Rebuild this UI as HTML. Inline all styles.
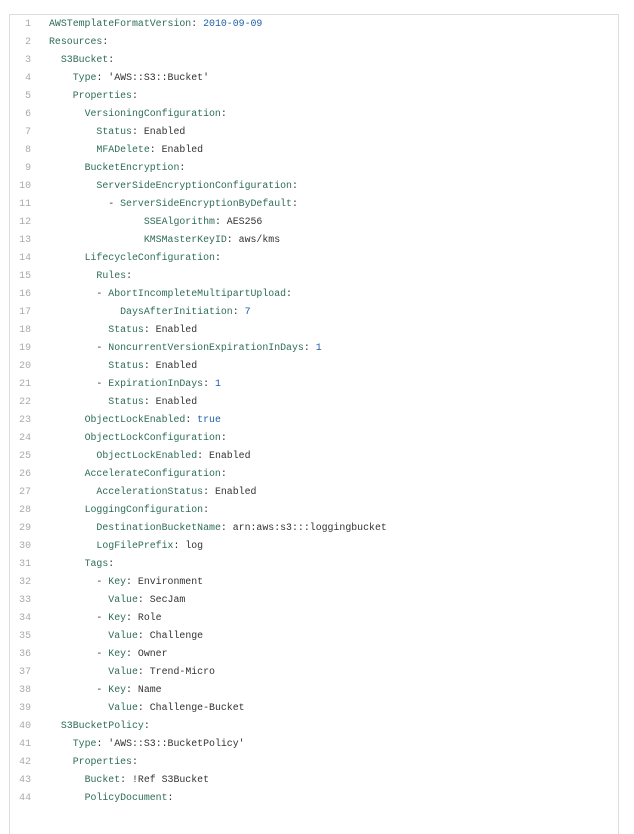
<!DOCTYPE html>
<html><head><meta charset="utf-8"><style>
html,body{margin:0;padding:0;background:#fff;width:634px;height:810px;overflow:hidden}
.box{position:absolute;left:9px;top:14px;width:610px;height:820px;border:1px solid #ddd;border-bottom:none;box-sizing:border-box}
.ln{position:absolute;left:0;top:15px;width:31px;text-align:right;font:9.9px/18px "Liberation Mono",monospace;color:#aaa;white-space:pre}
.code{position:absolute;left:49px;top:15px;font:9.9px/18px "Liberation Mono",monospace;color:#333;white-space:pre;margin:0}
.k{color:#2e6d57}.n{color:#1e5ea6}
</style></head><body>
<div class="box"></div>
<div class="ln">1
2
3
4
5
6
7
8
9
10
11
12
13
14
15
16
17
18
19
20
21
22
23
24
25
26
27
28
29
30
31
32
33
34
35
36
37
38
39
40
41
42
43
44</div>
<pre class="code"><span class="k">AWSTemplateFormatVersion</span>: <span class="n">2010-09-09</span>
<span class="k">Resources</span>:
  <span class="k">S3Bucket</span>:
    <span class="k">Type</span>: 'AWS::S3::Bucket'
    <span class="k">Properties</span>:
      <span class="k">VersioningConfiguration</span>:
        <span class="k">Status</span>: Enabled
        <span class="k">MFADelete</span>: Enabled
      <span class="k">BucketEncryption</span>:
        <span class="k">ServerSideEncryptionConfiguration</span>:
          - <span class="k">ServerSideEncryptionByDefault</span>:
                <span class="k">SSEAlgorithm</span>: AES256
                <span class="k">KMSMasterKeyID</span>: aws/kms
      <span class="k">LifecycleConfiguration</span>:
        <span class="k">Rules</span>:
        - <span class="k">AbortIncompleteMultipartUpload</span>:
            <span class="k">DaysAfterInitiation</span>: <span class="n">7</span>
          <span class="k">Status</span>: Enabled
        - <span class="k">NoncurrentVersionExpirationInDays</span>: <span class="n">1</span>
          <span class="k">Status</span>: Enabled
        - <span class="k">ExpirationInDays</span>: <span class="n">1</span>
          <span class="k">Status</span>: Enabled
      <span class="k">ObjectLockEnabled</span>: <span class="n">true</span>
      <span class="k">ObjectLockConfiguration</span>:
        <span class="k">ObjectLockEnabled</span>: Enabled
      <span class="k">AccelerateConfiguration</span>:
        <span class="k">AccelerationStatus</span>: Enabled
      <span class="k">LoggingConfiguration</span>:
        <span class="k">DestinationBucketName</span>: arn:aws:s3:::loggingbucket
        <span class="k">LogFilePrefix</span>: log
      <span class="k">Tags</span>:
        - <span class="k">Key</span>: Environment
          <span class="k">Value</span>: SecJam
        - <span class="k">Key</span>: Role
          <span class="k">Value</span>: Challenge
        - <span class="k">Key</span>: Owner
          <span class="k">Value</span>: Trend-Micro
        - <span class="k">Key</span>: Name
          <span class="k">Value</span>: Challenge-Bucket
  <span class="k">S3BucketPolicy</span>:
    <span class="k">Type</span>: 'AWS::S3::BucketPolicy'
    <span class="k">Properties</span>:
      <span class="k">Bucket</span>: !Ref S3Bucket
      <span class="k">PolicyDocument</span>:</pre>
</body></html>
